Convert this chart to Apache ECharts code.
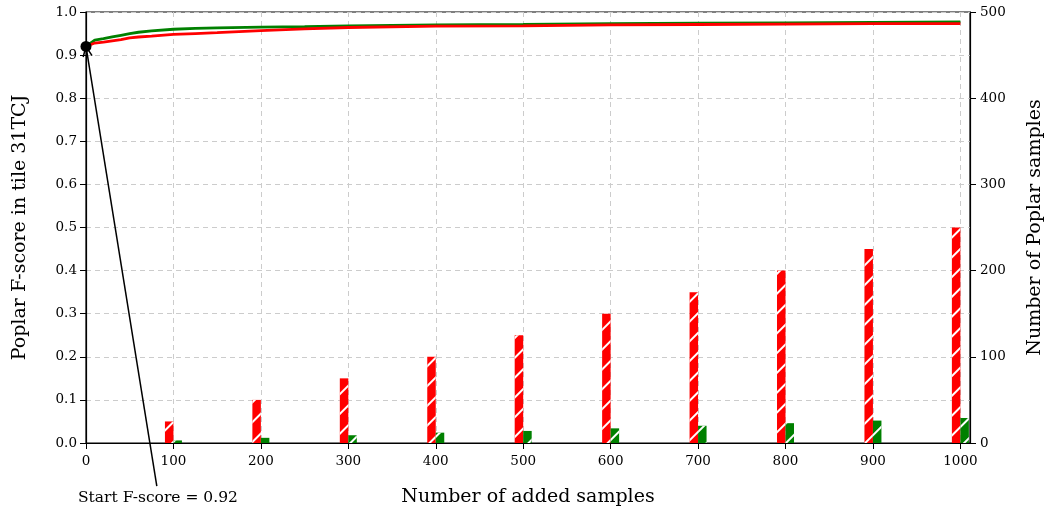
<!DOCTYPE html>
<html><head><meta charset="utf-8">
<script src="https://cdn.jsdelivr.net/npm/echarts@6/dist/echarts.min.js"></script>
<style>html,body{margin:0;padding:0;background:#fff}#c{width:1053px;height:515px}</style>
</head><body><div id="c"></div>
<script>
// samples added (x) for the F-score curves
const curveX = [0,10,20,30,40,50,60,75,100,125,150,200,250,300,400,500,600,700,800,900,1000];
const greenF = [0.92,0.935,0.938,0.942,0.946,0.950,0.953,0.956,0.960,0.962,0.963,0.965,0.966,0.968,0.970,0.971,0.973,0.974,0.975,0.976,0.977];
const redF   = [0.92,0.928,0.930,0.933,0.936,0.940,0.942,0.944,0.948,0.950,0.952,0.957,0.961,0.964,0.967,0.968,0.970,0.971,0.972,0.973,0.973];
// bar categories (number of added samples) and Poplar sample counts
const barX = [100,200,300,400,500,600,700,800,900,1000];
const redCounts   = [25,50,75,100,125,150,175,200,225,250];
const greenCounts = [3,6,9,12,14,17,20,23,26,29];
const startScore = 0.92;
const annotTail = [81,-0.1];
const xTicks = [0,100,200,300,400,500,600,700,800,900,1000];

const FONT = 'DejaVu Serif';
const hatch = {symbol:'rect', symbolSize:1, color:'#ffffff', dashArrayX:[1,0], dashArrayY:[1.5,11.5], rotation:-Math.PI/4};

const chart = echarts.init(document.getElementById('c'), null, {renderer:'canvas'});
chart.setOption({
  animation:false,
  grid:{left:86, right:82, top:12, bottom:72, show:true, borderColor:'#000', borderWidth:1.2, containLabel:false},
  xAxis:{type:'value', min:0, max:1011,
    name:'Number of added samples', nameLocation:'middle', nameGap:45,
    nameTextStyle:{fontFamily:FONT, fontSize:19, color:'#000'},
    axisLine:{show:true, lineStyle:{color:'#000', width:1.2}},
    axisTick:{show:true, length:6, inside:false, customValues:xTicks, lineStyle:{color:'#000'}},
    axisLabel:{fontFamily:FONT, fontSize:13.5, color:'#000', margin:11, customValues:xTicks, formatter:v=>String(v)},
    splitLine:{show:true, lineStyle:{color:'#cccccc', type:[5,4], width:1}}
  },
  yAxis:[{type:'value', min:0, max:1, interval:0.1, position:'left',
    name:'Poplar F-score in tile 31TCJ', nameLocation:'middle', nameGap:56,
    nameTextStyle:{fontFamily:FONT, fontSize:19, color:'#000'},
    axisLine:{show:true, lineStyle:{color:'#000', width:1.2}},
    axisTick:{show:true, length:6, lineStyle:{color:'#000'}},
    axisLabel:{fontFamily:FONT, fontSize:13.5, color:'#000', margin:9, formatter:v=>v.toFixed(1)},
    splitLine:{show:true, lineStyle:{color:'#cccccc', type:[5,4], width:1}}
  },{type:'value', min:0, max:500, interval:100, position:'right',
    name:'Number of Poplar samples', nameLocation:'middle', nameGap:56,
    nameTextStyle:{fontFamily:FONT, fontSize:19, color:'#000'},
    axisLine:{show:true, lineStyle:{color:'#000', width:1.2}},
    axisTick:{show:true, length:6, lineStyle:{color:'#000'}},
    axisLabel:{fontFamily:FONT, fontSize:13.5, color:'#000', margin:10},
    splitLine:{show:false}
  }],
  series:[
    {type:'bar', yAxisIndex:1, barWidth:8.5, barGap:'0%', z:1,
     data:barX.map((x,i)=>[x,redCounts[i]]),
     itemStyle:{color:'#ff0000', decal:hatch}},
    {type:'bar', yAxisIndex:1, barWidth:8.5, barGap:'0%', z:1,
     data:barX.map((x,i)=>[x,greenCounts[i]]),
     itemStyle:{color:'#008000', decal:hatch}},
    {type:'line', yAxisIndex:0, showSymbol:false, z:3,
     data:curveX.map((x,i)=>[x,greenF[i]]),
     lineStyle:{color:'#008000', width:2.8}},
    {type:'line', yAxisIndex:0, showSymbol:false, z:4,
     data:curveX.map((x,i)=>[x,redF[i]]),
     lineStyle:{color:'#ff0000', width:2.8}},
    {type:'scatter', yAxisIndex:0, z:6, clip:false, symbolSize:11,
     data:[[0,startScore]], itemStyle:{color:'#000', opacity:1}}
  ]
});
// annotation arrow, positioned through the chart's own scales
const tip = chart.convertToPixel({xAxisIndex:0, yAxisIndex:0}, [0,startScore]);
const tail = chart.convertToPixel({xAxisIndex:0, yAxisIndex:0}, annotTail);
const dx = tip[0]-tail[0], dy = tip[1]-tail[1], L = Math.hypot(dx,dy);
const ux = dx/L, uy = dy/L, px = -uy, py = ux, h = 10, w = 4.5;
chart.setOption({graphic:[
  {type:'line', z:100, shape:{x1:tail[0], y1:tail[1], x2:tip[0], y2:tip[1]}, style:{stroke:'#000', lineWidth:1.5}},
  {type:'polyline', z:100, shape:{points:[[tip[0]-ux*h+px*w, tip[1]-uy*h+py*w],[tip[0],tip[1]],[tip[0]-ux*h-px*w, tip[1]-uy*h-py*w]]}, style:{stroke:'#000', lineWidth:1.5, fill:null}},
  {type:'text', left:78, top:490, style:{text:'Start F-score = '+startScore.toFixed(2), fontFamily:FONT, fontSize:15.5, fill:'#000'}}
]});
</script></body></html>
